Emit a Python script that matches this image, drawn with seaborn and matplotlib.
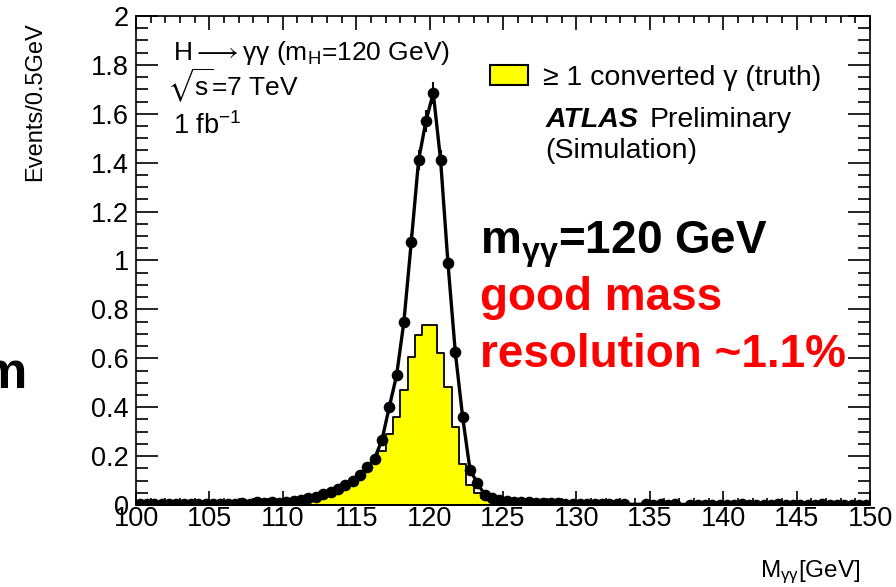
import numpy as np
import pandas as pd
import matplotlib
matplotlib.use("Agg")
import matplotlib.pyplot as plt
from matplotlib.patches import Patch
from matplotlib.ticker import MultipleLocator, FuncFormatter
import seaborn as sns

# 0.5 GeV diphoton mass bins between 100 and 150 GeV
bin_width = 0.5
mass_range = (100.0, 150.0)
bin_centers = np.arange(100.25, 150.0, bin_width)

# all selected events (markers + line), NaN = empty bin
all_events = [
    0.004, 0.003, 0.004, 0.003, 0.004, 0.003, 0.004, 0.004, 0.003, 0.005,
    0.004, 0.005, 0.005, 0.006, 0.009, 0.006, 0.011, 0.008, 0.012, 0.009,
    0.013, 0.017, 0.021, 0.027, 0.033, 0.046, 0.055, 0.065, 0.080, 0.100,
    0.122, 0.155, 0.190, 0.265, 0.400, 0.530, 0.750, 1.075, 1.410, 1.570,
    1.685, 1.410, 0.990, 0.625, 0.360, 0.145, 0.090, 0.042, 0.030, 0.022,
    0.018, 0.014, 0.012, 0.011, 0.009, 0.008, 0.007, 0.007, 0.006, 0.006,
    0.005, 0.005, 0.004, 0.004, 0.003, 0.003, 0.003, np.nan, np.nan, 0.003,
    0.002, 0.003, 0.002, 0.003, np.nan, 0.002, 0.002, 0.002, 0.002, 0.002,
    0.002, 0.002, 0.003, 0.002, 0.002, 0.002, 0.002, 0.003, 0.002, 0.002,
    0.002, 0.002, 0.002, 0.003, 0.002, 0.002, 0.002, 0.002, 0.002, 0.002,
]
all_errors = [
    0.003, 0.003, 0.003, 0.003, 0.003, 0.003, 0.003, 0.003, 0.003, 0.003,
    0.003, 0.003, 0.003, 0.003, 0.004, 0.003, 0.004, 0.004, 0.004, 0.004,
    0.004, 0.004, 0.005, 0.005, 0.006, 0.007, 0.008, 0.008, 0.009, 0.010,
    0.011, 0.013, 0.014, 0.017, 0.020, 0.024, 0.028, 0.034, 0.040, 0.045,
    0.045, 0.040, 0.033, 0.026, 0.020, 0.012, 0.010, 0.007, 0.006, 0.005,
    0.004, 0.004, 0.004, 0.003, 0.003, 0.003, 0.003, 0.003, 0.003, 0.003,
    0.003, 0.003, 0.003, 0.003, 0.002, 0.002, 0.002, 0.0, 0.0, 0.002,
    0.002, 0.002, 0.002, 0.002, 0.0, 0.002, 0.002, 0.002, 0.002, 0.002,
    0.002, 0.002, 0.002, 0.002, 0.002, 0.002, 0.002, 0.002, 0.002, 0.002,
    0.002, 0.002, 0.002, 0.002, 0.002, 0.002, 0.002, 0.002, 0.002, 0.002,
]
# events with at least one converted photon (truth)
converted = [
    0.0, 0.0, 0.0, 0.0, 0.0, 0.0, 0.0, 0.0, 0.0, 0.0,
    0.0, 0.0, 0.0, 0.0, 0.004, 0.002, 0.0, 0.002, 0.005, 0.003,
    0.006, 0.008, 0.012, 0.018, 0.025, 0.035, 0.045, 0.060, 0.075, 0.095,
    0.115, 0.140, 0.170, 0.220, 0.290, 0.360, 0.470, 0.605, 0.695, 0.736,
    0.736, 0.623, 0.483, 0.320, 0.168, 0.082, 0.050, 0.030, 0.022, 0.016,
    0.008, 0.004, 0.002, 0.001, 0.0, 0.0, 0.0, 0.0, 0.0, 0.0,
    0.0, 0.0, 0.0, 0.0, 0.0, 0.0, 0.0, 0.0, 0.0, 0.0,
    0.0, 0.0, 0.0, 0.0, 0.0, 0.0, 0.0, 0.0, 0.0, 0.0,
    0.0, 0.0, 0.0, 0.0, 0.0, 0.0, 0.0, 0.0, 0.0, 0.0,
    0.0, 0.0, 0.0, 0.0, 0.0, 0.0, 0.0, 0.0, 0.0, 0.0,
]

legend_label = "\u2265 1 converted \u03b3 (truth)"

hist_df = pd.DataFrame({"mass": bin_centers, "events": converted})
pts_df = pd.DataFrame({"mass": bin_centers, "events": all_events,
                       "err": all_errors})

sns.set_theme(style="ticks")
plt.rcParams["font.family"] = ["Liberation Sans", "DejaVu Sans"]
plt.rcParams["mathtext.fontset"] = "custom"
plt.rcParams["mathtext.rm"] = "Liberation Sans"
plt.rcParams["mathtext.it"] = "Liberation Sans:italic"
plt.rcParams["mathtext.bf"] = "Liberation Sans:bold"
plt.rcParams["mathtext.fallback"] = "stix"
plt.rcParams["text.color"] = "black"
plt.rcParams["axes.labelcolor"] = "black"

W, H = 896, 587


def fx(px):
    return px / W


def fy(py):
    return 1 - py / H


fig = plt.figure(figsize=(W / 100, H / 100), dpi=100)
ax = fig.add_axes([fx(136), fy(505), (870 - 136) / W, (505 - 16) / H])

# converted-photon histogram (filled step)
sns.histplot(data=hist_df, x="mass", weights="events", binwidth=bin_width,
             binrange=mass_range, element="step", fill=True,
             color="#ffff00", edgecolor="black", linewidth=1.3,
             alpha=1.0, ax=ax, zorder=1)

# fitted signal shape through all events
sns.lineplot(data=pts_df, x="mass", y="events", color="black",
             linewidth=2.4, ax=ax, zorder=2)
ax.errorbar(pts_df["mass"], pts_df["events"], yerr=pts_df["err"],
            fmt="none", ecolor="black", elinewidth=1.5, zorder=3)
sns.scatterplot(data=pts_df, x="mass", y="events", color="black", s=70,
                linewidth=0, ax=ax, zorder=4)

ax.set_xlim(*mass_range)
ax.set_ylim(0, 2)

ax.xaxis.set_major_locator(MultipleLocator(5))
ax.xaxis.set_minor_locator(MultipleLocator(1))
ax.yaxis.set_major_locator(MultipleLocator(0.2))
ax.yaxis.set_minor_locator(MultipleLocator(0.05))
ax.yaxis.set_major_formatter(FuncFormatter(lambda v, p: f"{v:g}"))

for s in ax.spines.values():
    s.set_linewidth(1.2)
    s.set_color("black")

ax.tick_params(axis="both", which="both", direction="in", top=True,
               right=True, colors="black", width=1.2, labelsize=19.5)
ax.tick_params(axis="x", which="major", length=10, pad=1.0)
ax.tick_params(axis="x", which="minor", length=5)
ax.tick_params(axis="y", which="major", length=16, pad=5)
ax.tick_params(axis="y", which="minor", length=8.5)

ax.set_xlabel(r"M$_{\mathregular{\gamma\gamma}}$[GeV]", fontsize=17.5)
ax.xaxis.label.set_ha("right")
ax.xaxis.label.set_va("center")
ax.xaxis.set_label_coords((860 - 136) / 734, (505 - 572) / 489)

ax.set_ylabel("Events/0.5GeV", fontsize=17)
ax.yaxis.label.set_ha("center")
ax.yaxis.label.set_va("center")
ax.yaxis.set_label_coords((35 - 136) / 734, (505 - 102) / 489)

ax.legend(handles=[Patch(facecolor="#ffff00", edgecolor="black",
                         linewidth=1.5, label=legend_label)],
          loc="center left", bbox_to_anchor=(fx(490), fy(78)),
          bbox_transform=fig.transFigure, frameon=False, fontsize=20.5,
          handlelength=1.33, handleheight=0.67, handletextpad=0.53,
          borderpad=0, borderaxespad=0)

# process / simulation annotations
fig.text(fx(173), fy(60),
         "H$\\longrightarrow$\u03b3\u03b3 (m$_{\\mathregular{H}}$=120 GeV)",
         fontsize=19, va="baseline", ha="left")
fig.text(fx(167), fy(96), r"$\sqrt{\mathregular{s}}$=7 TeV",
         fontsize=19, va="baseline", ha="left")
fig.text(fx(173), fy(134), r"1 fb$^{\mathregular{-1}}$",
         fontsize=19.5, va="baseline", ha="left")
fig.text(fx(546), fy(127), "ATLAS", fontsize=20.5, fontweight="bold",
         fontstyle="italic", va="baseline", ha="left")
fig.text(fx(650), fy(127), "Preliminary", fontsize=20.5, va="baseline",
         ha="left")
fig.text(fx(545), fy(158), "(Simulation)", fontsize=20.5, va="baseline",
         ha="left")

# slide callouts
fig.text(fx(480), fy(254), r"m$_{\mathbf{\gamma\gamma}}$=120 GeV",
         fontsize=33, fontweight="bold", color="black", va="baseline",
         ha="left")
fig.text(fx(480), fy(310), "good mass", fontsize=33, fontweight="bold",
         color="#ff0000", va="baseline", ha="left")
fig.text(fx(480), fy(367), "resolution ~1.1%", fontsize=33,
         fontweight="bold", color="#ff0000", va="baseline", ha="left")
fig.text(fx(27), fy(388), "m", fontsize=37.5, fontweight="bold",
         color="black", va="baseline", ha="right")

fig.savefig("out.png", dpi=100)
